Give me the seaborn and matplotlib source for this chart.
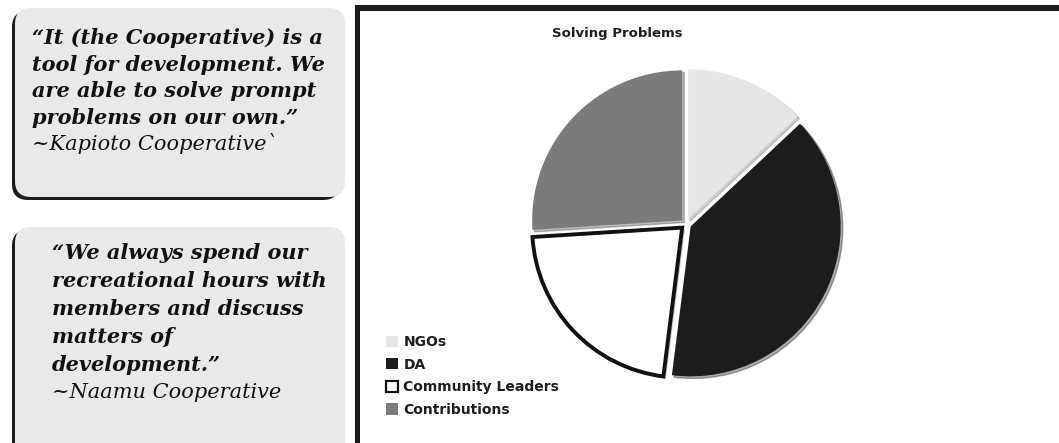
import matplotlib
matplotlib.use("Agg")
import matplotlib.pyplot as plt
from matplotlib.patches import FancyBboxPatch, Rectangle
import seaborn as sns

# Pie data
categories = ["NGOs", "DA", "Community Leaders", "Contributions"]
shares = [13, 39, 22, 26]
chart_title = "Solving Problems"

# Side quotes
quote1_lines = ["\u201cIt (the Cooperative) is a", "tool for development. We",
                "are able to solve prompt", "problems on our own.\u201d"]
quote1_source = "~Kapioto Cooperative`"
quote2_lines = ["\u201cWe always spend our", "recreational hours with",
                "members and discuss", "matters of", "development.\u201d"]
quote2_source = "~Naamu Cooperative"

sns.set_theme(style="white")
plt.rcParams["font.family"] = ["DejaVu Sans"]

W, H = 1059, 443
fig = plt.figure(figsize=(W / 100, H / 100), dpi=100)
fig.patch.set_facecolor("white")

# Pixel-space overlay for the boxes, frame and text
ov = fig.add_axes([0, 0, 1, 1], zorder=0)
ov.set_xlim(0, W)
ov.set_ylim(H, 0)
ov.axis("off")

box_fill = "#e9e9e9"
dark = "#1b1b1b"


def quote_box(x0, y0, x1, y1):
    shadow = FancyBboxPatch((x0 - 3, y0 + 3), x1 - x0 - 3, y1 - y0,
                            boxstyle="round,pad=0,rounding_size=16",
                            facecolor=dark, edgecolor="none")
    body = FancyBboxPatch((x0, y0), x1 - x0, y1 - y0,
                          boxstyle="round,pad=0,rounding_size=16",
                          facecolor=box_fill, edgecolor="none")
    ov.add_patch(shadow)
    ov.add_patch(body)


quote_box(15, 8, 345, 197)
quote_box(15, 227, 345, 470)

serif = dict(family="DejaVu Serif", style="italic", color="#111111",
             va="center", ha="left")
for i, line in enumerate(quote1_lines):
    ov.text(32, 38 + i * 26.5, line, fontsize=15, weight="bold", **serif)
ov.text(32, 38 + 4 * 26.5, quote1_source, fontsize=15, weight="normal", **serif)

for i, line in enumerate(quote2_lines):
    ov.text(52, 253 + i * 28, line, fontsize=15, weight="bold", **serif)
ov.text(52, 253 + 5 * 28, quote2_source, fontsize=15, weight="normal", **serif)

# Chart frame: thick top and left rules
ov.add_patch(Rectangle((355, 5), W - 355, 6, facecolor=dark, edgecolor="none"))
ov.add_patch(Rectangle((355, 5), 5, H, facecolor=dark, edgecolor="none"))

ov.text(617, 33, chart_title, fontsize=9.5, weight="heavy", ha="center",
        va="center", color="#1e1e1e")

# Pie axes, square in pixels, centred on the pie
R = 150
cx, cy = 686, 224
half = R * 1.1
pax = fig.add_axes([(cx - half) / W, (H - cy - half) / H, 2 * half / W, 2 * half / H],
                   zorder=1)
pax.patch.set_alpha(0)
pax.axis("off")

colors = ["#e6e6e6", "#1c1c1c", "#ffffff", "#7b7b7b"]
edgecolors = ["none", "none", "#111111", "none"]
linewidths = [0, 0, 2.8, 0]

wedges, _ = pax.pie(shares, colors=colors, startangle=90, counterclock=False,
                    explode=[0.035] * 4, radius=1.0,
                    shadow={"ox": 0.01, "oy": -0.01, "shade": 0.5, "alpha": 0.35})
for w, ec, lw in zip(wedges, edgecolors, linewidths):
    w.set_edgecolor(ec)
    w.set_linewidth(lw)
pax.set_xlim(-1.1, 1.1)
pax.set_ylim(-1.1, 1.1)

leg = ov.legend(wedges, categories, loc="upper left",
                bbox_to_anchor=(386 / W, 1 - 335 / H), bbox_transform=fig.transFigure,
                frameon=False, fontsize=10, handlelength=0.85, handleheight=0.85,
                handletextpad=0.4, labelspacing=0.62, borderaxespad=0, borderpad=0)
for t in leg.get_texts():
    t.set_fontweight("bold")
    t.set_color("#1e1e1e")
for h, lw in zip(leg.legend_handles, linewidths):
    h.set_linewidth(1.6 if lw else 0)

fig.savefig("out.png", dpi=100, facecolor="white")
